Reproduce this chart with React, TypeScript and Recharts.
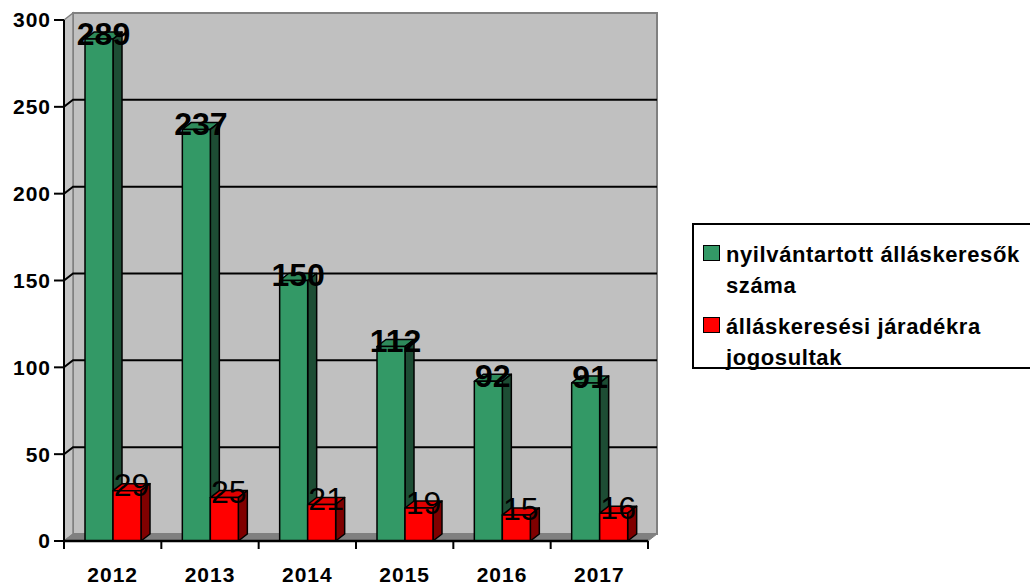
import {
  BarChart,
  Bar,
  XAxis,
  YAxis,
  CartesianGrid,
  Legend,
  LabelList,
} from "recharts";

const years = ["2012", "2013", "2014", "2015", "2016", "2017"];
const registered = [289, 237, 150, 112, 92, 91];
const entitled = [29, 25, 21, 19, 15, 16];
const yTicks = [0, 50, 100, 150, 200, 250, 300];

const registeredName = "nyilvántartott álláskeresők száma";
const entitledName = "álláskeresési járadékra jogosultak";

const data = years.map((year, i) => ({
  year,
  registered: registered[i],
  entitled: entitled[i],
}));

// 3D depth of the walls and boxes
const DX = 9;
const DY = 7;
const FONT = "'Liberation Sans', Arial, sans-serif";

function Box3D(props: any) {
  const { x, y, width, height, fill, side, top } = props;
  if (!height) return null;
  return (
    <g stroke="#000" strokeWidth={1.5} strokeLinejoin="round">
      <polygon
        points={`${x},${y} ${x + DX},${y - DY} ${x + width + DX},${y - DY} ${x + width},${y}`}
        fill={top}
      />
      <polygon
        points={`${x + width},${y} ${x + width + DX},${y - DY} ${x + width + DX},${y + height - DY} ${x + width},${y + height}`}
        fill={side}
      />
      <rect x={x} y={y} width={width} height={height} fill={fill} />
    </g>
  );
}

// walls drawn once, from the grid's own box
function wallLine(p: any) {
  const { x, y, width, height, y1 } = p;
  if (Math.abs(y1 - (y + height)) > 1) return <g key={p.key} />;
  const b = y + height;
  return (
    <g key={p.key}>
      <rect x={x + DX} y={y - DY} width={width} height={height} fill="#c0c0c0" stroke="#808080" strokeWidth={2} />
      <polygon
        points={`${x},${y} ${x + DX},${y - DY} ${x + DX},${b - DY} ${x},${b}`}
        fill="#c4c4c4"
        stroke="#808080"
        strokeWidth={1.5}
      />
      <polygon
        points={`${x},${b} ${x + DX},${b - DY} ${x + width + DX},${b - DY} ${x + width},${b}`}
        fill="#808080"
        stroke="#808080"
        strokeWidth={1}
      />
    </g>
  );
}

function gridLine(p: any) {
  const { x1, y1, x2, y, height } = p;
  const edge = Math.abs(y1 - y) < 1 || Math.abs(y1 - (y + height)) < 1;
  if (edge) return <g key={p.key} />;
  return (
    <polyline
      key={p.key}
      points={`${x1},${y1} ${x1 + DX},${y1 - DY} ${x2 + DX},${y1 - DY}`}
      fill="none"
      stroke="#000"
      strokeWidth={2}
    />
  );
}

function XTick(props: any) {
  const { x, y, payload, index } = props;
  const half = payload?.offset || 584 / years.length / 2;
  return (
    <g>
      <line x1={x - half} y1={y} x2={x - half} y2={y + 8} stroke="#000" strokeWidth={2} />
      {index === years.length - 1 && (
        <line x1={x + half} y1={y} x2={x + half} y2={y + 8} stroke="#000" strokeWidth={2} />
      )}
      <text
        x={x}
        y={y + 41}
        textAnchor="middle"
        fontFamily={FONT}
        fontSize={21}
        fontWeight={700}
        letterSpacing={1}
        fill="#000"
      >
        {payload.value}
      </text>
    </g>
  );
}

const valueLabel = (bold: boolean) => (props: any) => {
  const { x, y, width, value } = props;
  return (
    <text
      x={Number(x) + Number(width) / 2 + DX / 2}
      y={Number(y) + 5.5}
      textAnchor="middle"
      fontFamily={FONT}
      fontSize={32}
      fontWeight={bold ? 700 : 400}
      fill="#000"
    >
      {value}
    </text>
  );
};

function LegendBox(props: any) {
  const items = props.payload || [];
  return (
    <div
      style={{
        borderTop: "2px solid #000",
        borderLeft: "2px solid #000",
        borderBottom: "2px solid #000",
        borderRight: "0",
        padding: "14px 0 0 9px",
        fontFamily: FONT,
        fontSize: 22,
        fontWeight: 700,
        lineHeight: "31px",
        color: "#000",
        background: "#fff",
        boxSizing: "border-box",
        width: 600,
        height: 146,
      }}
    >
      {items.map((it: any, i: number) => (
        <div key={i} style={{ display: "flex", marginBottom: 10, alignItems: "flex-start" }}>
          <div
            style={{
              width: 15,
              height: 14,
              marginTop: 6,
              marginRight: 6,
              border: "1.5px solid #000",
              background: it.color,
              flex: "none",
            }}
          />
          <div style={{ width: 305, letterSpacing: 0.6, whiteSpace: "normal" }}>{it.value}</div>
        </div>
      ))}
    </div>
  );
}

export default function App() {
  return (
    <div style={{ position: "absolute", left: 0, top: 0, width: 1030, height: 587, overflow: "hidden", background: "#fff" }}>
      <BarChart
        width={1030}
        height={587}
        data={data}
        barGap={0}
        margin={{ top: 20, right: 382, bottom: 0, left: 0 }}
      >
        <CartesianGrid vertical={false} horizontal={wallLine} />
        <CartesianGrid vertical={false} horizontal={gridLine} />
        <XAxis
          dataKey="year"
          height={46}
          axisLine={{ stroke: "#000", strokeWidth: 2.5 }}
          tickLine={false}
          tickSize={0}
          tickMargin={0}
          interval={0}
          tick={<XTick />}
        />
        <YAxis
          width={64}
          domain={[0, 300]}
          ticks={yTicks}
          interval={0}
          axisLine={{ stroke: "#000", strokeWidth: 2 }}
          tickLine={{ stroke: "#000", strokeWidth: 2 }}
          tickSize={10}
          tickMargin={3}
          tick={{ fontSize: 21, fontWeight: 700, fill: "#000", fontFamily: FONT, letterSpacing: 1 }}
        />
        <Legend
          layout="horizontal"
          verticalAlign="middle"
          align="center"
          wrapperStyle={{ position: "absolute", left: 692, top: 223, width: 600 }}
          content={<LegendBox />}
        />
        <Bar
          dataKey="registered"
          name={registeredName}
          fill="#339966"
          barSize={28}
          isAnimationActive={false}
          shape={(p: any) => <Box3D {...p} top="#2e8a5b" side="#1d4d34" />}
        >
          <LabelList dataKey="registered" content={valueLabel(true)} />
        </Bar>
        <Bar
          dataKey="entitled"
          name={entitledName}
          fill="#ff0000"
          barSize={28}
          isAnimationActive={false}
          shape={(p: any) => <Box3D {...p} top="#e00000" side="#800000" />}
        >
          <LabelList dataKey="entitled" content={valueLabel(false)} />
        </Bar>
      </BarChart>
    </div>
  );
}
